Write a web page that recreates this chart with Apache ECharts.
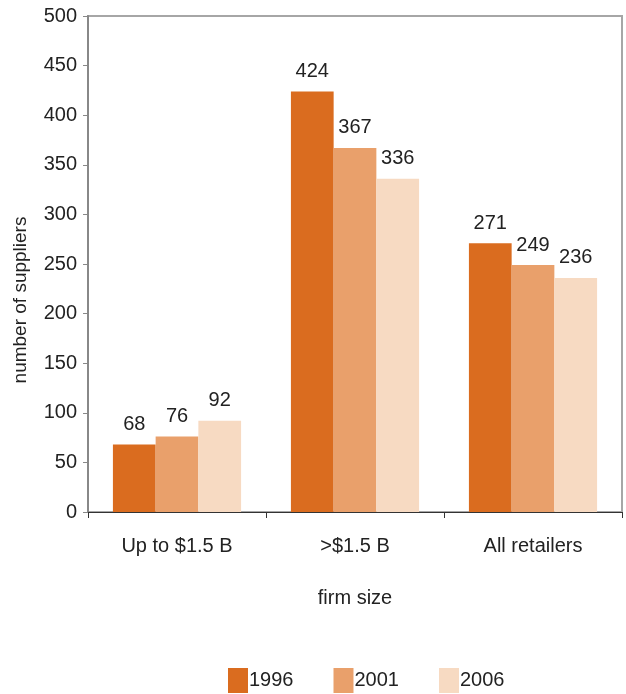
<!DOCTYPE html>
<html>
<head>
<meta charset="utf-8">
<script src="https://cdn.jsdelivr.net/npm/echarts@6/dist/echarts.min.js"></script>
<style>html,body{margin:0;padding:0;background:#fff}#c{width:626px;height:694px}</style>
</head>
<body>
<div id="c"></div>
<script>
var categories = ['Up to $1.5 B', '>$1.5 B', 'All retailers'];
var years = ['1996', '2001', '2006'];
var values1996 = [68, 424, 271];
var values2001 = [76, 367, 249];
var values2006 = [92, 336, 236];
var colors = ['#DA6C1F', '#E9A06B', '#F7DAC2'];
var FONT = 'Liberation Sans, Arial, sans-serif';

var chart = echarts.init(document.getElementById('c'));
var seriesData = [values1996, values2001, values2006];
chart.setOption({
  animation: false,
  textStyle: { fontFamily: FONT },
  color: colors,
  grid: { left: 88, right: 4, top: 16, bottom: 182, show: true, borderColor: '#A6A6A6', borderWidth: 2 },
  legend: {
    bottom: -4, left: 223,
    itemWidth: 20, itemHeight: 25, itemGap: 40,
    icon: 'rect',
    textStyle: { fontSize: 20, color: '#222', fontFamily: FONT, padding: [0, 0, 0, -4] },
    data: years
  },
  xAxis: {
    type: 'category', data: categories,
    axisLine: { lineStyle: { color: '#333', width: 1 } },
    axisTick: { show: true, length: 6, lineStyle: { color: '#333' } },
    axisLabel: { fontSize: 20, color: '#222', margin: 24, fontFamily: FONT },
    name: 'firm size', nameLocation: 'middle', nameGap: 76,
    nameTextStyle: { fontSize: 20, color: '#222', fontFamily: FONT }
  },
  yAxis: {
    type: 'value', min: 0, max: 500, interval: 50,
    splitLine: { show: false },
    axisLine: { show: true, lineStyle: { color: '#888', width: 2 } },
    axisTick: { show: true, length: 5, lineStyle: { color: '#888' } },
    axisLabel: { fontSize: 20, color: '#222', margin: 11, fontFamily: FONT }
  },
  graphic: [{
    type: 'text', x: 21, y: 300, rotation: Math.PI / 2,
    style: { text: 'number of suppliers', fill: '#222', font: '19px Liberation Sans, Arial, sans-serif', align: 'center', verticalAlign: 'middle' }
  }],
  series: years.map(function (y, i) {
    return {
      name: y, type: 'bar', data: seriesData[i],
      barWidth: '24%', barGap: '0%', barCategoryGap: '28%',
      itemStyle: { color: colors[i] },
      label: { show: true, position: 'top', distance: 10, fontSize: 20, color: '#222', fontFamily: FONT }
    };
  })
});
</script>
</body>
</html>
